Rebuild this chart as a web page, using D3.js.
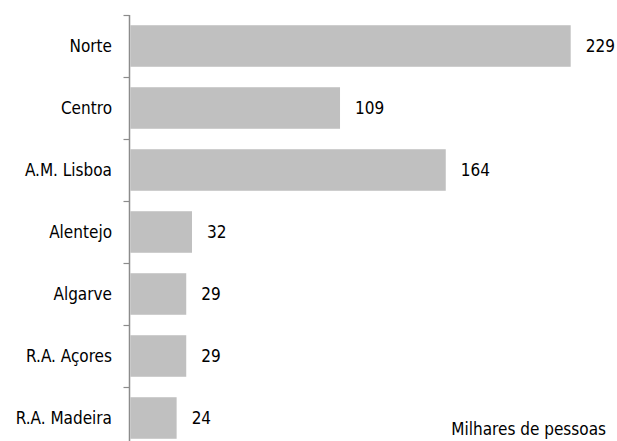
<!DOCTYPE html>
<html>
<head>
<meta charset="utf-8">
<script src="https://cdn.jsdelivr.net/npm/d3@7"></script>
<style>
  html, body { margin: 0; padding: 0; background: #fff; }
  svg { display: block; }
  text { font-family: "DejaVu Sans Condensed", "DejaVu Sans", sans-serif; font-stretch: condensed; fill: #000; }
</style>
</head>
<body>
<svg id="chart" width="617" height="441"></svg>
<script>
// Population by region (thousands of people)
const regions = ["Norte", "Centro", "A.M. Lisboa", "Alentejo", "Algarve", "R.A. Açores", "R.A. Madeira"];
const values = [229, 109, 164, 32, 29, 29, 24];
const unitLabel = "Milhares de pessoas";

const fontSize = 17;
const svg = d3.select("#chart");
const x0 = 129.5;
const x = d3.scaleLinear().domain([0, 229]).range([x0 + 1, 570.7]);
const y = d3.scaleBand().domain(regions).range([15, 15 + 62 * regions.length]).paddingInner(0.33).paddingOuter(0.165);

// bars
svg.append("g").selectAll("rect")
  .data(regions)
  .join("rect")
  .attr("x", x(0))
  .attr("y", d => y(d))
  .attr("width", (d, i) => x(values[i]) - x(0))
  .attr("height", y.bandwidth())
  .attr("fill", "#c0c0c0");

// value labels
svg.append("g").selectAll("text")
  .data(regions)
  .join("text")
  .attr("x", (d, i) => x(values[i]) + 15)
  .attr("y", d => y(d) + y.bandwidth() / 2)
  .attr("dy", "0.35em")
  .attr("font-size", fontSize)
  .text((d, i) => values[i]);

// category axis with ticks between categories
const axis = svg.append("g");
axis.append("line")
  .attr("x1", x0).attr("x2", x0)
  .attr("y1", 15).attr("y2", 441)
  .attr("stroke", "#8c8c8c").attr("stroke-width", 1.5);
const boundaries = regions.map((d, i) => 15 + y.step() * i);
axis.selectAll("line.tick")
  .data(boundaries)
  .join("line")
  .attr("class", "tick")
  .attr("x1", x0 - 6).attr("x2", x0)
  .attr("y1", d => Math.round(d) + 0.5).attr("y2", d => Math.round(d) + 0.5)
  .attr("stroke", "#8c8c8c").attr("stroke-width", 1.2);
axis.selectAll("text")
  .data(regions)
  .join("text")
  .attr("x", 112)
  .attr("y", d => y(d) + y.bandwidth() / 2)
  .attr("dy", "0.35em")
  .attr("text-anchor", "end")
  .attr("font-size", fontSize)
  .text(d => d);

// unit note
svg.append("text")
  .attr("x", 606)
  .attr("y", 435)
  .attr("text-anchor", "end")
  .attr("font-size", fontSize)
  .text(unitLabel);
</script>
</body>
</html>
